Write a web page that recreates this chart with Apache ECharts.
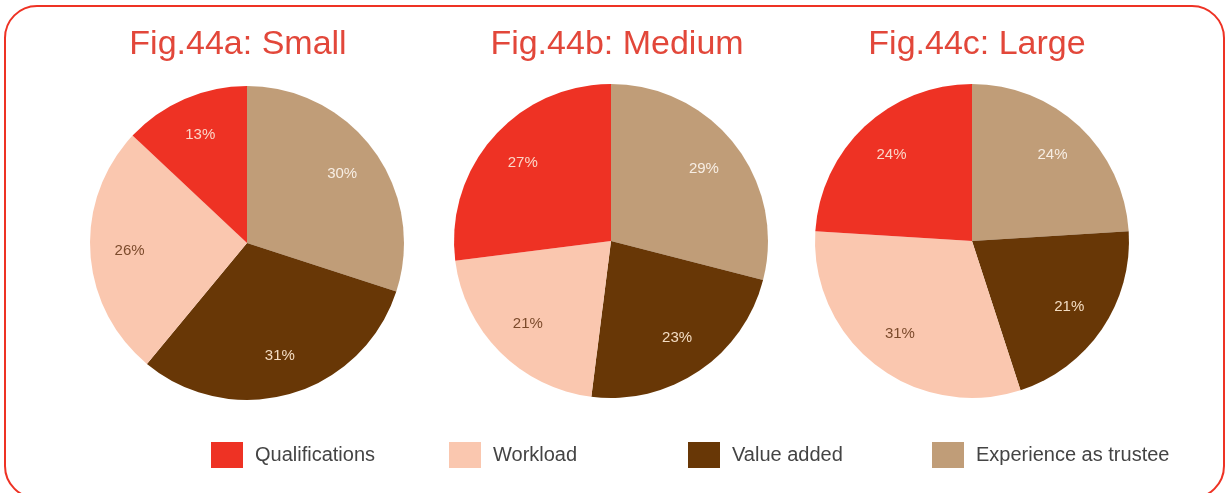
<!DOCTYPE html>
<html>
<head>
<meta charset="utf-8">
<style>
  html, body { margin: 0; padding: 0; background: #fff; }
  #chart { width: 1232px; height: 493px; }
</style>
<script src="https://cdn.jsdelivr.net/npm/echarts@6/dist/echarts.min.js"></script>
</head>
<body>
<div id="chart"></div>
<script>
// Reasons given, by trustee board size (% of respondents)
const categories = ['Qualifications', 'Workload', 'Value added', 'Experience as trustee'];
const smallValues = [13, 26, 31, 30];
const mediumValues = [27, 21, 23, 29];
const largeValues = [24, 31, 21, 24];
const titles = ['Fig.44a: Small', 'Fig.44b: Medium', 'Fig.44c: Large'];

const sliceColors = ['#ee3224', '#fac7af', '#683706', '#c09d78'];
const labelColors = ['#fbd6c8', '#7c4b2c', '#f3dcc2', '#f7eee4'];

const FONT = '"Liberation Sans", Arial, Helvetica, sans-serif';
const R = 157;
const centers = [[247, 243], [611, 241], [972, 241]];
const titleX = [238, 617, 977];

// Slices run clockwise from 12 o'clock: experience, value added, workload, qualifications
const drawOrder = [3, 2, 1, 0];

function pieData(values, withLabels) {
  return drawOrder.map(i => ({
    name: categories[i],
    value: values[i],
    itemStyle: { color: withLabels ? 'rgba(0,0,0,0)' : sliceColors[i] },
    label: { color: labelColors[i] }
  }));
}

const valueSets = [smallValues, mediumValues, largeValues];
const series = [];
valueSets.forEach((vals, k) => {
  series.push({
    type: 'pie',
    center: centers[k],
    radius: [0, R],
    startAngle: 90,
    clockwise: true,
    label: { show: false },
    labelLine: { show: false },
    emphasis: { scale: false },
    data: pieData(vals, false)
  });
});
// Label rings: same values, transparent, so labels sit further out than the pie midpoint
valueSets.forEach((vals, k) => {
  series.push({
    type: 'pie',
    center: centers[k],
    radius: [R * 0.46, R],
    startAngle: 90,
    clockwise: true,
    silent: true,
    tooltip: { show: false },
    label: {
      show: true,
      position: 'inside',
      formatter: '{c}%',
      fontFamily: FONT,
      fontSize: 15
    },
    labelLine: { show: false },
    emphasis: { disabled: true },
    data: pieData(vals, true)
  });
});

const legendX = [206, 444, 683, 927];
const legends = categories.map((c, i) => ({
  data: [c],
  left: legendX[i],
  top: 437,
  icon: 'rect',
  itemWidth: 32,
  itemHeight: 26,
  textStyle: {
    fontFamily: FONT,
    fontSize: 20,
    color: '#444',
    padding: [0, 0, 0, 7]
  }
}));

const chart = echarts.init(document.getElementById('chart'));
chart.setOption({
  animation: false,
  backgroundColor: '#fff',
  title: titles.map((t, i) => ({
    text: t,
    left: titleX[i],
    top: 28,
    padding: 0,
    textAlign: 'center',
    textStyle: {
      fontFamily: FONT,
      fontSize: 34,
      fontWeight: 'normal',
      color: '#e2473a'
    }
  })),
  legend: legends,
  graphic: [{
    type: 'rect',
    silent: true,
    z: -1,
    shape: { x: 5, y: 6, width: 1219, height: 492, r: 32 },
    style: { fill: 'none', stroke: '#ee3224', lineWidth: 2 }
  }],
  series: series
});
</script>
</body>
</html>
